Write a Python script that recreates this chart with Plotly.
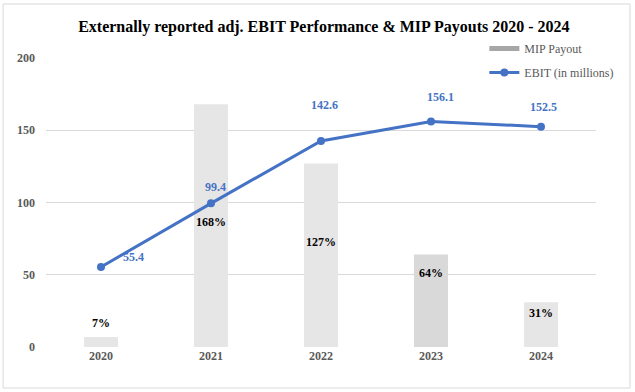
import plotly.graph_objects as go

years = ["2020", "2021", "2022", "2023", "2024"]
mip_payout = [7, 168, 127, 64, 31]
mip_labels = ["7%", "168%", "127%", "64%", "31%"]
ebit = [55.4, 99.4, 142.6, 156.1, 152.5]
ebit_labels = ["55.4", "99.4", "142.6", "156.1", "152.5"]
y_ticks = [0, 50, 100, 150, 200]

# label placement (data units / pixel shifts)
mip_label_y = [16.6, 86.5, 72.7, 51, 23.5]
ebit_label_y = [62, 110.7, 167.5, 173, 166]
ebit_label_xshift = [32, 4, 3, 9, 2]

bar_colors = ["#E7E6E6", "#E7E6E6", "#E7E6E6", "#D9D9D9", "#E7E6E6"]
SERIF = "Liberation Serif, Times New Roman, serif"

fig = go.Figure()
fig.add_trace(go.Bar(x=years, y=mip_payout, marker=dict(color=bar_colors, line=dict(width=0)),
                     width=0.31, showlegend=False, hoverinfo="skip"))
fig.add_trace(go.Scatter(x=[None], y=[None], mode="lines", name="MIP Payout",
                         line=dict(color="#A6A6A6", width=5), legendgroup="a", showlegend=True))
fig.add_trace(go.Scatter(x=years, y=ebit, mode="lines+markers", name="EBIT (in millions)",
                         line=dict(color="#4472C4", width=3), marker=dict(size=8, color="#4472C4"),
                         legendgroup="b"))

for i, yr in enumerate(years):
    fig.add_annotation(x=i, y=mip_label_y[i], text="<b>%s</b>" % mip_labels[i], showarrow=False,
                       font=dict(family=SERIF, size=12, color="#000000"))
    fig.add_annotation(x=i, y=ebit_label_y[i], text="<b>%s</b>" % ebit_labels[i], showarrow=False,
                       xshift=ebit_label_xshift[i],
                       font=dict(family=SERIF, size=12, color="#4472C4"))

# outer chart border
fig.add_shape(type="rect", xref="paper", yref="paper", x0=-0.078, x1=1.0618, y0=-0.1419, y1=1.1869,
              line=dict(color="#D9D9D9", width=1), fillcolor="rgba(0,0,0,0)", layer="below")

fig.update_layout(
    width=635, height=392,
    margin=dict(l=46, r=39, t=58, b=45),
    paper_bgcolor="white", plot_bgcolor="white",
    title=dict(text="<b>Externally reported adj. EBIT Performance &amp; MIP Payouts 2020 - 2024</b>",
               x=0.51, xanchor="center", y=0.933, yanchor="middle",
               font=dict(family=SERIF, size=16, color="#000000")),
    font=dict(family=SERIF, color="#595959"),
    legend=dict(x=0.797, y=1.083, xanchor="left", yanchor="top", bgcolor="rgba(0,0,0,0)",
                font=dict(family=SERIF, size=12, color="#595959"), tracegroupgap=5,
                itemwidth=30),
    bargap=0.69,
    xaxis=dict(type="category", range=[-0.5, 4.5], showgrid=False, zeroline=False, showline=False,
               ticks="", tickfont=dict(family=SERIF, size=12, color="#595959", weight="bold")),
    yaxis=dict(range=[0, 200], tickvals=y_ticks, showgrid=True, gridcolor="#D9D9D9", gridwidth=1,
               zeroline=False, showline=False, ticks="", ticklabelstandoff=10,
               tickfont=dict(family=SERIF, size=12, color="#595959", weight="bold")),
)

fig.write_html("out.html", config={"displayModeBar": False},
               post_script="document.body.style.margin='0';document.body.style.overflow='hidden';")
